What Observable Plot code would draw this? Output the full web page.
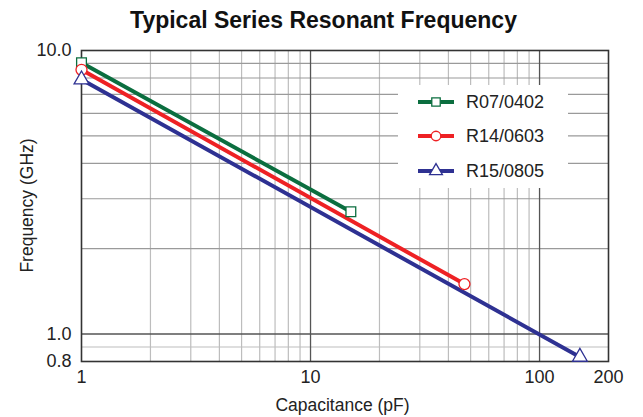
<!DOCTYPE html>
<html>
<head>
<meta charset="utf-8">
<script src="https://cdn.jsdelivr.net/npm/d3@7"></script>
<script src="https://cdn.jsdelivr.net/npm/@observablehq/plot@0.6"></script>
<style>
  html, body { margin: 0; padding: 0; background: #fff; }
  body { font-family: "Liberation Sans", Arial, Helvetica, sans-serif; }
  #wrap { position: relative; width: 643px; height: 417px; overflow: hidden; }
  #title { height: 38px; line-height: 40px; text-align: center; font-weight: bold; font-size: 23px; color: #111; padding-left: 4px; }
  #legend { position: absolute; left: 398px; top: 85px; width: 170px; height: 103px; background: #fff; }
  .item { position: absolute; left: 20px; height: 20px; display: flex; align-items: center; }
  .item span { font-size: 18px; color: #222; margin-left: 12px; }
  #labels { position: absolute; left: 0; top: 0; pointer-events: none; }
  #labels text { font-family: "Liberation Sans", Arial, Helvetica, sans-serif; font-size: 17.5px; fill: #222; }
</style>
</head>
<body>
<div id="wrap">
  <div id="title">Typical Series Resonant Frequency</div>
  <div id="chart"></div>
  <div id="legend"></div>
  <svg id="labels" width="643" height="417">
    <text id="xlabel" text-anchor="middle"></text>
    <text id="ylabel" text-anchor="middle"></text>
  </svg>
</div>
<script>
// ---- data ----
const seriesNames = ["R07/0402", "R14/0603", "R15/0805"];
const seriesColors = ["#0b6e3f", "#ee2124", "#2e3192"];
const seriesSymbols = ["square", "circle", "triangle"];
const r07Capacitance = [1, 15];
const r07Frequency = [9.05, 2.7];
const r14Capacitance = [1, 47];
const r14Frequency = [8.55, 1.5];
const r15Capacitance = [1, 150];
const r15Frequency = [7.9, 0.83];
const xTicks = [1, 10, 100, 200];
const yTicks = [0.8, 1, 10];
const xMajorGrid = [10, 100];
const xMinorGrid = [2, 3, 4, 5, 6, 7, 8, 9, 20, 30, 40, 50, 60, 70, 80, 90];
const yMajorGrid = [1];
const yMidGrid = [2, 3, 4, 5, 6, 7, 8, 9];
const yMinorGrid = [0.9];
const xAxisLabel = "Capacitance (pF)";
const yAxisLabel = "Frequency (GHz)";

// ---- table ----
const caps = [r07Capacitance, r14Capacitance, r15Capacitance];
const freqs = [r07Frequency, r14Frequency, r15Frequency];
const rows = [];
seriesNames.forEach((name, i) => {
  caps[i].forEach((c, j) => rows.push({series: name, cap: c, freq: freqs[i][j]}));
});

const chart = Plot.plot({
  width: 643,
  height: 379,
  marginTop: 12,
  marginLeft: 81,
  marginRight: 35,
  marginBottom: 56,
  style: {fontFamily: '"Liberation Sans", Arial, Helvetica, sans-serif', fontSize: "18px", color: "#222", background: "#fff"},
  x: {type: "log", domain: [1, 200], ticks: xTicks, tickFormat: d => String(d), tickSize: 0, tickPadding: 9, label: null},
  y: {type: "log", domain: [0.8, 10], ticks: yTicks, tickFormat: d3.format(".1f"), tickSize: 0, tickPadding: 10, label: null},
  color: {domain: seriesNames, range: seriesColors},
  symbol: {domain: seriesNames, range: seriesSymbols},
  marks: [
    Plot.ruleX(xMinorGrid, {stroke: "#bdbdbd", strokeWidth: 1.2}),
    Plot.ruleY(yMinorGrid, {stroke: "#bdbdbd", strokeWidth: 1.2}),
    Plot.ruleY(yMidGrid, {stroke: "#9a9a9a", strokeWidth: 1.2}),
    Plot.ruleX(xMajorGrid, {stroke: "#555", strokeWidth: 1.3}),
    Plot.ruleY(yMajorGrid, {stroke: "#555", strokeWidth: 1.3}),
    Plot.frame({stroke: "#333", strokeWidth: 1.6}),
    Plot.line(rows, {x: "cap", y: "freq", z: "series", stroke: "series", strokeWidth: 4}),
    Plot.dot(rows, {x: "cap", y: "freq", stroke: "series", symbol: "series", fill: "#fff", r: 5.5, strokeWidth: 1.3})
  ]
});
document.getElementById("chart").appendChild(chart);

// ---- axis labels (centred on the plot frame, from the plot's scales) ----
const xs = chart.scale("x"), ys = chart.scale("y");
const xMid = (xs.range[0] + xs.range[1]) / 2;
const yMid = 38 + (ys.range[0] + ys.range[1]) / 2;
d3.select("#xlabel").attr("x", xMid - 2).attr("y", 410.5).text(xAxisLabel);
d3.select("#ylabel").attr("transform", `translate(33,${yMid}) rotate(-90)`).text(yAxisLabel);

// ---- legend (HTML overlay) ----
const legend = document.getElementById("legend");
const itemTops = [7, 41, 76];
seriesNames.forEach((name, i) => {
  const item = document.createElement("div");
  item.className = "item";
  item.style.top = itemTops[i] + "px";
  const svg = d3.create("svg").attr("width", 36).attr("height", 20);
  svg.append("line").attr("x1", 0).attr("x2", 36).attr("y1", 10).attr("y2", 10)
    .attr("stroke", seriesColors[i]).attr("stroke-width", 4);
  const sym = {square: d3.symbolSquare, circle: d3.symbolCircle, triangle: d3.symbolTriangle}[seriesSymbols[i]];
  svg.append("path").attr("d", d3.symbol(sym, 5.5 * 5.5 * Math.PI * 0.75)())
    .attr("transform", "translate(18,10)")
    .attr("fill", "#fff").attr("stroke", seriesColors[i]).attr("stroke-width", 1.3);
  item.appendChild(svg.node());
  const label = document.createElement("span");
  label.textContent = name;
  item.appendChild(label);
  legend.appendChild(item);
});
</script>
</body>
</html>
